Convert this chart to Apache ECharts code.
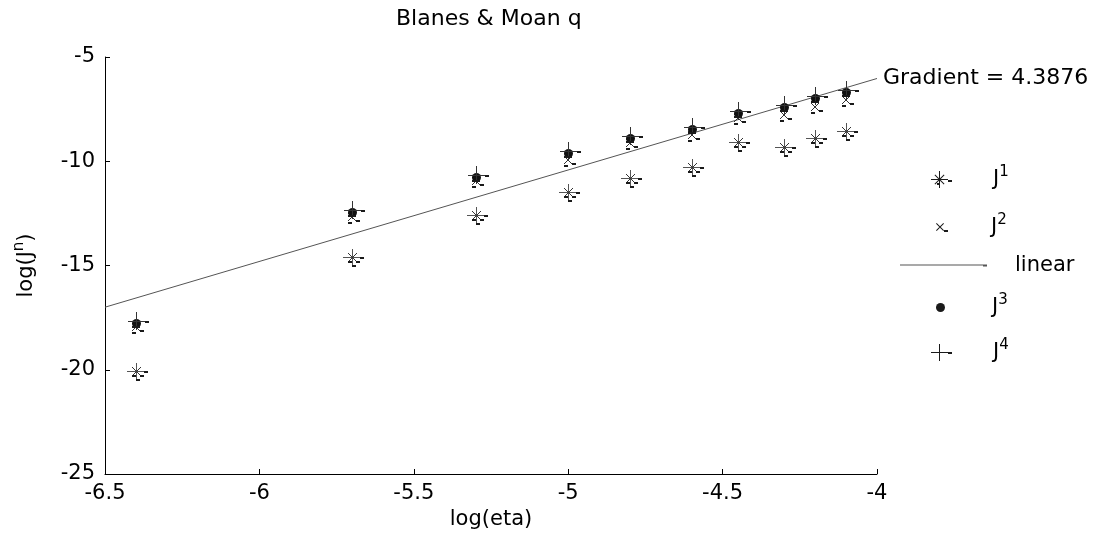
<!DOCTYPE html>
<html>
<head>
<meta charset="utf-8">
<title>Blanes & Moan q</title>
<script src="https://cdn.jsdelivr.net/npm/echarts@6/dist/echarts.min.js"></script>
<style>
  html, body { margin: 0; padding: 0; background: #fff; }
  #chart { width: 1095px; height: 545px; }
</style>
</head>
<body>
<div id="chart"></div>
<script>
// log(eta) sample positions
const etaLog = [-6.4, -5.7, -5.3, -5.0, -4.8, -4.6, -4.45, -4.3, -4.2, -4.1];
// log(J^n) for each order n
const J1 = [-20.06, -14.6, -12.6, -11.47, -10.78, -10.28, -9.08, -9.32, -8.9, -8.55];
const J2 = [-17.95, -12.67, -10.95, -9.94, -9.12, -8.74, -7.93, -7.8, -7.4, -7.06];
const J3 = [-17.76, -12.43, -10.76, -9.6, -8.88, -8.45, -7.69, -7.4, -6.97, -6.68];
const J4 = [-17.68, -12.34, -10.66, -9.5, -8.79, -8.36, -7.6, -7.31, -6.88, -6.59];
// fitted linear trend
const gradient = 4.3876;
const lineX = [-6.5, -4];
const lineStartY = -17.0;
const lineY = [lineStartY, lineStartY + gradient * (lineX[1] - lineX[0])];
// axis ranges
const xRange = { min: -6.5, max: -4, interval: 0.5 };
const yRange = { min: -25, max: -5, interval: 5 };

const FONT = 'DejaVu Sans, Verdana, sans-serif';
const FS = 21;
const INK = '#1a1a1a';

function seg(x1, y1, x2, y2, w, c) {
  return { type: 'line', shape: { x1, y1, x2, y2 }, style: { stroke: c || INK, lineWidth: w || 1 } };
}

// marker glyphs (with their small error-bar caps)
const glyphs = {
  star(cx, cy) {
    return [
      seg(cx - 9, cy + 0.5, cx + 8, cy + 0.5, 1, '#555'),
      seg(cx + 0.5, cy - 8, cx + 0.5, cy + 8, 1, '#555'),
      seg(cx - 4, cy - 4, cx + 5, cy + 5, 1, '#333'),
      seg(cx - 4, cy + 5, cx + 5, cy - 4, 1, '#333'),
      seg(cx + 8, cy + 1, cx + 12, cy + 1, 2),
      seg(cx - 4, cy + 5, cx, cy + 5, 2),
      seg(cx + 4, cy + 5, cx + 8, cy + 5, 2),
      seg(cx, cy + 9, cx + 4, cy + 9, 2)
    ];
  },
  cross(cx, cy) {
    return [
      seg(cx - 4, cy - 4, cx + 4, cy + 4, 1, '#333'),
      seg(cx - 4, cy + 4, cx + 4, cy - 4, 1, '#333'),
      seg(cx + 4, cy + 4, cx + 8, cy + 4, 2),
      seg(cx - 4, cy + 6, cx, cy + 6, 2)
    ];
  },
  dot(cx, cy) {
    return [{ type: 'circle', shape: { cx: cx + 0.5, cy: cy + 0.5, r: 4.5 }, style: { fill: '#111' } }];
  },
  plus(cx, cy) {
    return [
      seg(cx + 0.5, cy - 9, cx + 0.5, cy + 9, 1, '#333'),
      seg(cx - 8, cy + 0.5, cx + 9, cy + 0.5, 1, '#333'),
      seg(cx + 9, cy + 1, cx + 13, cy + 1, 2),
      seg(cx - 4, cy + 6, cx + 4, cy + 6, 2)
    ];
  }
};

function markerSeries(name, ys, glyph, z) {
  return {
    type: 'custom',
    name,
    z,
    data: etaLog.map((x, i) => [x, ys[i]]),
    encode: { x: 0, y: 1 },
    itemStyle: { color: INK },
    renderItem(params, api) {
      const p = api.coord([api.value(0), api.value(1)]);
      return { type: 'group', children: glyphs[glyph](Math.round(p[0]), Math.round(p[1])) };
    }
  };
}

// legend icons
const icons = {
  J1: 'path://M0 8h17v1H0z M8 0h1v17H8z M4.2 3.5L13.5 12.8L12.8 13.5L3.5 4.2z M12.8 3.5L13.5 4.2L4.2 13.5L3.5 12.8z M17 9h4v2h-4z M6 12h3v2H6z',
  J2: 'path://M0 0.7L0.7 0L8 7.3L7.3 8z M7.3 0L8 0.7L0.7 8L0 7.3z M8 7h4v2H8z',
  linear: 'path://M0 0h83v1H0z M83 0h4v2h-4z',
  J3: 'circle',
  J4: 'path://M0 8h17v1H0z M8 0h1v17H8z M17 8h4v2h-4z'
};

const supRich = {
  j: { fontFamily: FONT, fontSize: FS, color: '#000' },
  s: { fontFamily: FONT, fontSize: 15, color: '#000', padding: [0, 0, 14, 0] }
};

function jLegend(name, icon, w, h, left, top, gap) {
  return {
    left, top, orient: 'vertical', padding: 0,
    itemWidth: w, itemHeight: h,
    data: [{ name, icon }],
    selectedMode: false,
    formatter: n => '{g|}{j|J}{s|' + n.slice(1) + '}',
    textStyle: { rich: Object.assign({ g: { width: gap } }, supRich) }
  };
}

const option = {
  animation: false,
  backgroundColor: '#fff',
  title: {
    text: 'Blanes & Moan q',
    left: 396, top: 8, padding: 0,
    textStyle: { fontFamily: FONT, fontSize: 22, fontWeight: 'normal', color: '#000' }
  },
  grid: { left: 105, right: 218, top: 57, bottom: 71, containLabel: false },
  legend: [
    jLegend('J1', icons.J1, 21, 17, 931, 165, 36),
    jLegend('J2', icons.J2, 12, 9, 936, 213, 38),
    {
      left: 900, top: 255, padding: 0, itemWidth: 87, itemHeight: 2,
      selectedMode: false,
      data: [{ name: 'linear', icon: icons.linear }],
      textStyle: { fontFamily: FONT, fontSize: FS, color: '#000', padding: [0, 0, 0, 23] }
    },
    jLegend('J3', icons.J3, 9, 9, 936, 293, 42),
    jLegend('J4', icons.J4, 21, 17, 931, 338, 36)
  ],
  xAxis: {
    type: 'value',
    min: xRange.min, max: xRange.max, interval: xRange.interval,
    name: 'log(eta)', nameLocation: 'middle', nameGap: 35,
    nameTextStyle: { fontFamily: FONT, fontSize: FS, color: '#000' },
    axisLine: { onZero: false, lineStyle: { color: '#000', width: 1 } },
    axisTick: { inside: true, length: 5, lineStyle: { color: '#000' } },
    axisLabel: { fontFamily: FONT, fontSize: FS, color: '#000', margin: 9 },
    splitLine: { show: false }
  },
  yAxis: {
    type: 'value',
    min: yRange.min, max: yRange.max, interval: yRange.interval,
    name: '{a|log(J}{s|n}{a|)}', nameLocation: 'middle', nameGap: 64, nameRotate: 90,
    nameTextStyle: {
      rich: {
        a: { fontFamily: FONT, fontSize: FS, color: '#000' },
        s: { fontFamily: FONT, fontSize: 15, color: '#000', padding: [0, 0, 14, 0] }
      }
    },
    axisLine: { show: true, onZero: false, lineStyle: { color: '#000', width: 1 } },
    axisTick: { show: true, inside: true, length: 5, lineStyle: { color: '#000' } },
    axisLabel: { fontFamily: FONT, fontSize: FS, color: '#000', margin: 10 },
    splitLine: { show: false }
  },
  series: [
    markerSeries('J1', J1, 'star', 3),
    markerSeries('J2', J2, 'cross', 4),
    {
      type: 'line',
      name: 'linear',
      z: 2,
      data: lineX.map((x, i) => [x, lineY[i]]),
      showSymbol: false,
      symbol: 'none',
      itemStyle: { color: '#555' },
      lineStyle: { color: '#555', width: 1 },
      endLabel: {
        show: true,
        distance: 6,
        fontFamily: FONT, fontSize: 22, color: '#000',
        formatter: () => 'Gradient = ' + gradient
      }
    },
    markerSeries('J3', J3, 'dot', 5),
    markerSeries('J4', J4, 'plus', 6)
  ]
};

const chart = echarts.init(document.getElementById('chart'), null, { renderer: 'canvas' });
chart.setOption(option);
</script>
</body>
</html>
